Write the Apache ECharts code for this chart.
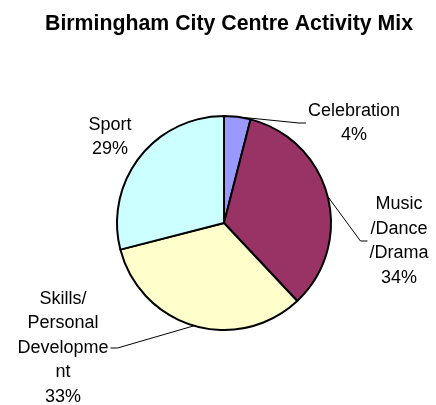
<!DOCTYPE html>
<html>
<head>
<meta charset="utf-8">
<script src="https://cdn.jsdelivr.net/npm/echarts@6/dist/echarts.min.js"></script>
<style>
  html, body { margin: 0; padding: 0; background: #ffffff; }
  #chart { width: 436px; height: 405px; }
</style>
</head>
<body>
<div id="chart"></div>
<script>
// Activity categories (line breaks as they wrap in the labels) and their shares
const categories = ['Celebration', 'Music\n/Dance\n/Drama', 'Skills/\nPersonal\nDevelopme\nnt', 'Sport'];
const shares = [4, 34, 33, 29];
const sliceColors = ['#9999FF', '#993366', '#FFFFCC', '#CCFFFF'];

// Where each label block sits (centre, px) and which side its leader line meets
const labelSpots = [
  { x: 354, y: 123, side: 'left' },
  { x: 399, y: 241, side: 'left' },
  { x: 63, y: 348, side: 'right' },
  { x: 110, y: 137, side: null }
];

const chart = echarts.init(document.getElementById('chart'), null, { renderer: 'canvas' });

const pieData = categories.map(function (name, i) {
  const item = { name: name, value: shares[i], itemStyle: { color: sliceColors[i] } };
  if (!labelSpots[i].side) item.labelLine = { show: false };
  return item;
});

chart.setOption({
  backgroundColor: '#ffffff',
  animation: false,
  title: {
    text: 'Birmingham City Centre Activity Mix',
    left: 40,
    top: 9,
    textStyle: {
      fontFamily: 'Liberation Sans, Arial, sans-serif',
      fontSize: 21.3,
      fontWeight: 'bold',
      color: '#000000'
    }
  },
  series: [{
    type: 'pie',
    center: [224, 223],
    radius: 107,
    startAngle: 90,
    clockwise: true,
    avoidLabelOverlap: false,
    percentPrecision: 0,
    itemStyle: { borderColor: '#000000', borderWidth: 2 },
    emphasis: { disabled: true },
    label: {
      show: true,
      position: 'outside',
      formatter: '{b}\n{d}%',
      fontFamily: 'Liberation Sans, Arial, sans-serif',
      fontSize: 18,
      lineHeight: 24.5,
      color: '#000000',
      align: 'center'
    },
    labelLine: {
      show: true,
      length: 10,
      length2: 10,
      lineStyle: { color: '#000000', width: 1 }
    },
    labelLayout: function (p) {
      const spot = labelSpots[p.dataIndex];
      const w = p.labelRect.width;
      const out = { x: spot.x, y: spot.y, align: 'center', verticalAlign: 'middle' };
      if (spot.side && p.labelLinePoints) {
        const start = p.labelLinePoints[0];
        const edgeX = spot.side === 'left' ? spot.x - w / 2 - 2 : spot.x + w / 2 + 2;
        const elbowX = spot.side === 'left' ? edgeX - 7 : edgeX + 7;
        out.labelLinePoints = [[start[0], start[1]], [elbowX, spot.y], [edgeX, spot.y]];
      }
      return out;
    },
    data: pieData
  }]
});
</script>
</body>
</html>
